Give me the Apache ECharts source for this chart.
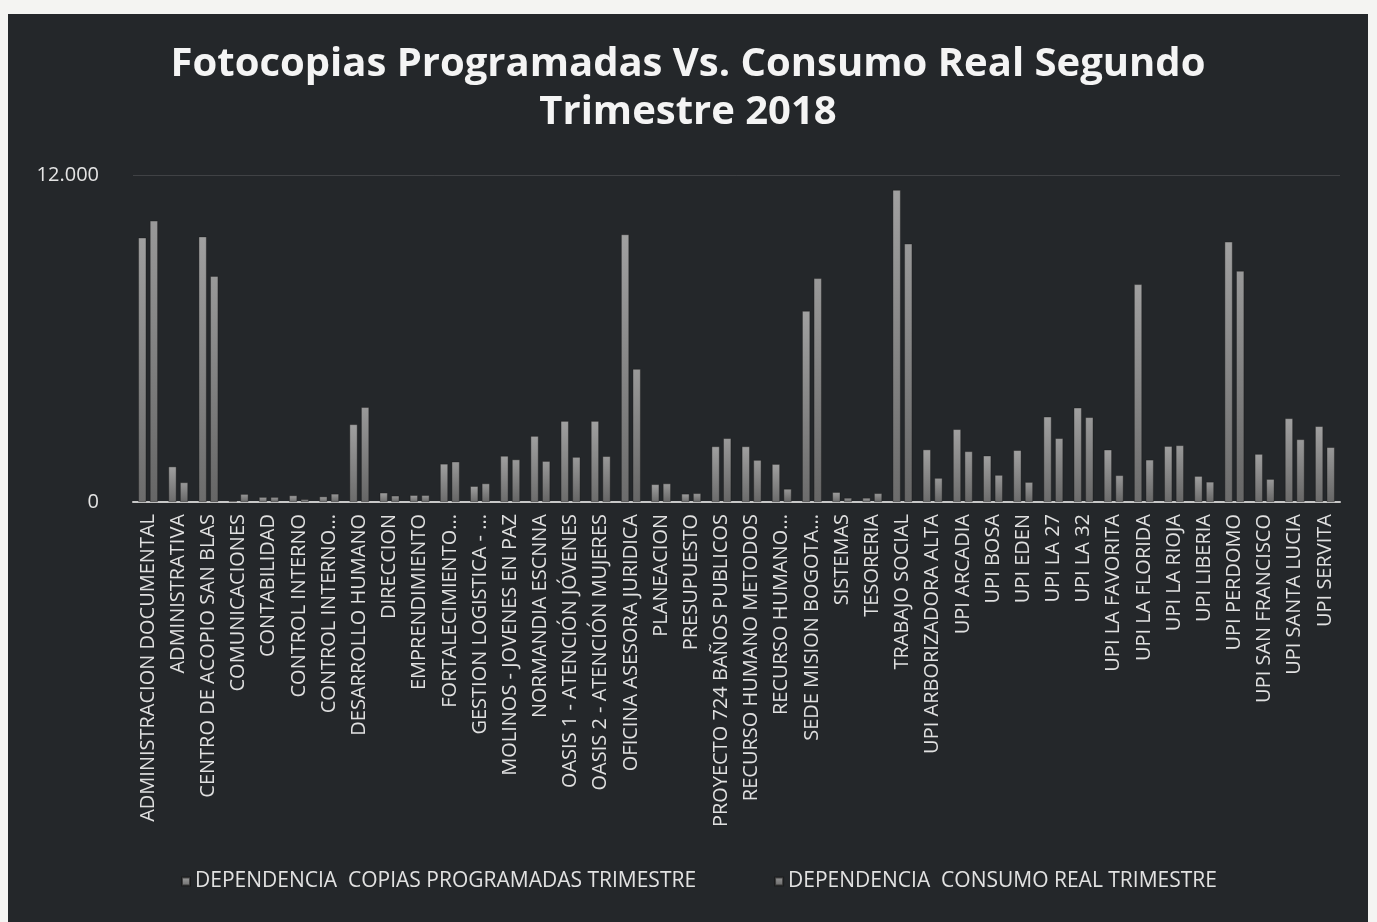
<!DOCTYPE html>
<html>
<head>
<meta charset="utf-8">
<script src="https://cdn.jsdelivr.net/npm/echarts@6/dist/echarts.min.js"></script>
<style>
  html, body { margin: 0; padding: 0; background: #f4f4f2; width: 1377px; height: 922px; overflow: hidden; }
  #chart { position: absolute; left: 8px; top: 14px; width: 1360px; height: 908px; background: #24272a; }
</style>
</head>
<body>
<div id="chart"></div>
<script>
const titleText = 'Fotocopias Programadas Vs. Consumo Real Segundo\nTrimestre 2018';
const categories = [
  'ADMINISTRACION DOCUMENTAL', 'ADMINISTRATIVA', 'CENTRO DE ACOPIO SAN BLAS', 'COMUNICACIONES',
  'CONTABILIDAD', 'CONTROL INTERNO', 'CONTROL INTERNO...', 'DESARROLLO HUMANO', 'DIRECCION',
  'EMPRENDIMIENTO', 'FORTALECIMIENTO...', 'GESTION LOGISTICA - ...', 'MOLINOS - JOVENES EN PAZ',
  'NORMANDIA ESCNNA', 'OASIS 1 - ATENCIÓN JÓVENES', 'OASIS 2 - ATENCIÓN MUJERES',
  'OFICINA ASESORA JURIDICA', 'PLANEACION', 'PRESUPUESTO', 'PROYECTO 724 BAÑOS PUBLICOS',
  'RECURSO HUMANO METODOS', 'RECURSO HUMANO...', 'SEDE MISION BOGOTA...', 'SISTEMAS', 'TESORERIA',
  'TRABAJO SOCIAL', 'UPI ARBORIZADORA ALTA', 'UPI ARCADIA', 'UPI BOSA', 'UPI EDEN', 'UPI LA 27',
  'UPI LA 32', 'UPI LA FAVORITA', 'UPI LA FLORIDA', 'UPI LA RIOJA', 'UPI LIBERIA', 'UPI PERDOMO',
  'UPI SAN FRANCISCO', 'UPI SANTA LUCIA', 'UPI SERVITA'
];
const seriesNames = ['DEPENDENCIA  COPIAS PROGRAMADAS TRIMESTRE', 'DEPENDENCIA  CONSUMO REAL TRIMESTRE'];
const programadas = [9700, 1300, 9740, 50, 180, 240, 200, 2850, 340, 250, 1400, 580, 1690, 2420, 2970, 2970,
  9820, 650, 300, 2040, 2040, 1390, 7010, 360, 150, 11450, 1925, 2670, 1700, 1900, 3130, 3460, 1920, 7990,
  2050, 950, 9550, 1760, 3070, 2780];
const consumo = [10320, 720, 8290, 290, 180, 100, 300, 3480, 230, 250, 1480, 680, 1560, 1500, 1650, 1680,
  4880, 680, 320, 2340, 1540, 480, 8210, 150, 320, 9480, 880, 1860, 990, 730, 2340, 3110, 980, 1550,
  2080, 740, 8480, 840, 2300, 2010];
const yTicks = [0, 12000];

const chart = echarts.init(document.getElementById('chart'));
const barColor = (a, b) => new echarts.graphic.LinearGradient(0, 0, 0, 1, [
  { offset: 0, color: a }, { offset: 1, color: b }
]);
const fontFam = '"Open Sans", "DejaVu Sans", sans-serif';
chart.setOption({
  backgroundColor: '#24272a',
  animation: false,
  title: {
    text: titleText,
    left: 'center',
    top: 22,
    textStyle: { color: '#f4f4f4', fontFamily: fontFam, fontWeight: 'bold', fontSize: 40, lineHeight: 48 }
  },
  legend: {
    data: seriesNames,
    left: 168,
    top: 852,
    itemWidth: 8,
    itemHeight: 8,
    itemGap: 78,
    icon: 'rect',
    textStyle: { color: '#e2e2e2', fontFamily: fontFam, fontSize: 21 }
  },
  grid: { left: 125, right: 28, top: 161, bottom: 420, containLabel: false },
  xAxis: {
    type: 'category',
    data: categories,
    axisLine: { lineStyle: { color: '#c8c8c8', width: 2 } },
    axisTick: { show: false },
    axisLabel: {
      interval: 0, rotate: 90, color: '#e0e0e0', fontFamily: fontFam, fontSize: 20, margin: 12
    }
  },
  yAxis: {
    type: 'value',
    min: yTicks[0],
    max: yTicks[1],
    interval: yTicks[1] - yTicks[0],
    axisLine: { show: false },
    axisTick: { show: false },
    splitLine: { show: true, lineStyle: { color: 'rgba(255,255,255,0.13)', width: 1 } },
    axisLabel: {
      color: '#e4e4e4', fontFamily: fontFam, fontSize: 20, margin: 34,
      formatter: v => v.toLocaleString('de-DE')
    }
  },
  series: [
    {
      name: seriesNames[0], type: 'bar', data: programadas, barWidth: 8, barGap: '45%',
      itemStyle: { color: barColor('#a0a0a0', '#6c6c6c'), borderColor: 'rgba(20,20,20,0.6)', borderWidth: 0.6 }
    },
    {
      name: seriesNames[1], type: 'bar', data: consumo, barWidth: 8,
      itemStyle: { color: barColor('#999999', '#666666'), borderColor: 'rgba(20,20,20,0.6)', borderWidth: 0.6 }
    }
  ]
});
</script>
</body>
</html>
